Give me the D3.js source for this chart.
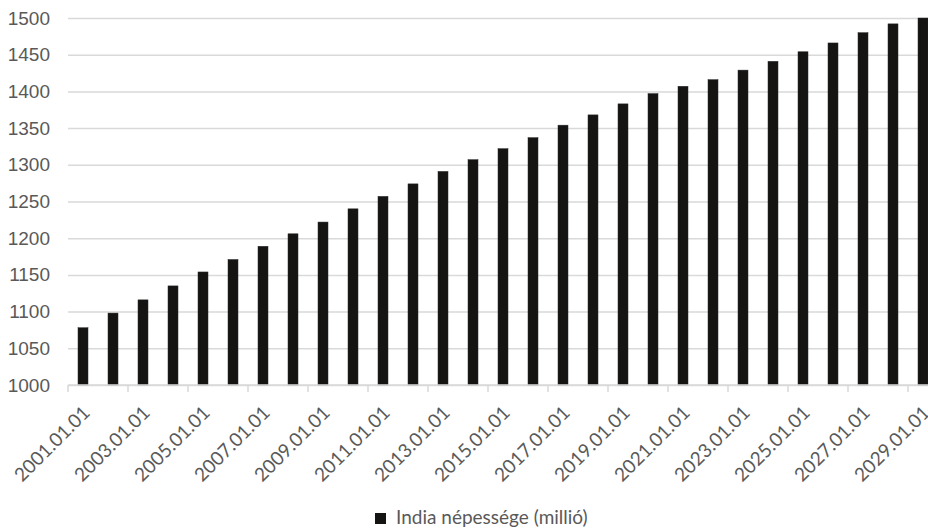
<!DOCTYPE html>
<html>
<head>
<meta charset="utf-8">
<script src="https://cdn.jsdelivr.net/npm/d3@7"></script>
<style>
  body { margin: 0; background: #fff; }
  svg { display: block; font-family: Lato, "Open Sans", sans-serif; }
</style>
</head>
<body>
<svg width="928" height="532"></svg>
<script>
// data
const dates = ["2001.01.01","2002.01.01","2003.01.01","2004.01.01","2005.01.01","2006.01.01",
  "2007.01.01","2008.01.01","2009.01.01","2010.01.01","2011.01.01","2012.01.01","2013.01.01",
  "2014.01.01","2015.01.01","2016.01.01","2017.01.01","2018.01.01","2019.01.01","2020.01.01",
  "2021.01.01","2022.01.01","2023.01.01","2024.01.01","2025.01.01","2026.01.01","2027.01.01",
  "2028.01.01","2029.01.01"];
const population = [1078, 1098, 1116, 1135, 1154, 1171, 1189, 1206, 1222, 1240, 1257, 1274, 1291,
  1307, 1322, 1337, 1354, 1368, 1383, 1397, 1407, 1416, 1429, 1441, 1454, 1466, 1480, 1492, 1500];
const yTicks = [1000, 1050, 1100, 1150, 1200, 1250, 1300, 1350, 1400, 1450, 1500];
const seriesName = "India népessége (millió)";

const margin = {top: 18, left: 68, bottom: 147},
    plotW = 870,
    height = 532;

const svg = d3.select("svg");

const x = d3.scaleBand()
  .domain(dates)
  .range([margin.left, margin.left + plotW])
  .paddingInner(2/3)
  .paddingOuter(1/3);

const y = d3.scaleLinear()
  .domain([1000, 1500])
  .range([height - margin.bottom, margin.top]);

// gridlines + y labels
const yAxis = svg.append("g")
  .attr("transform", "translate(" + margin.left + ",0)")
  .call(d3.axisLeft(y).tickValues(yTicks).tickSize(-plotW).tickPadding(18).tickFormat(d3.format("d")));
yAxis.select(".domain").remove();
yAxis.selectAll(".tick line").attr("stroke", "#d9d9d9").attr("stroke-width", 1.5);
yAxis.selectAll(".tick text").attr("fill", "#595959").style("font-size", "19px");

// bars
svg.append("g").selectAll("rect")
  .data(population)
  .join("rect")
  .attr("x", (d, i) => x(dates[i]))
  .attr("y", d => y(d))
  .attr("width", x.bandwidth())
  .attr("height", d => y(1000) - y(d))
  .attr("fill", "#151413")
  .attr("stroke", "#2b2b2b")
  .attr("stroke-width", 0.5);

// x axis line and ticks (every second category)
const base = y(1000);
svg.append("line")
  .attr("x1", margin.left).attr("x2", margin.left + plotW)
  .attr("y1", base).attr("y2", base)
  .attr("stroke", "#d9d9d9").attr("stroke-width", 1.5);

const tickCats = dates.filter((d, i) => i % 2 === 0);
svg.append("g").selectAll("line")
  .data(tickCats)
  .join("line")
  .attr("x1", d => x(d) - x.step() * x.paddingOuter())
  .attr("x2", d => x(d) - x.step() * x.paddingOuter())
  .attr("y1", base).attr("y2", base + 7)
  .attr("stroke", "#d9d9d9").attr("stroke-width", 1.5);

svg.append("g").selectAll("text")
  .data(tickCats)
  .join("text")
  .attr("transform", d => "translate(" + (x(d) + x.bandwidth() / 2 + 8) + "," + (base + 29) + ") rotate(-45)")
  .attr("text-anchor", "end")
  .attr("fill", "#595959")
  .style("font-size", "19px")
  .text(d => d);

// legend
const legend = svg.append("g").attr("transform", "translate(375,513)");
legend.append("rect").attr("width", 11).attr("height", 11).attr("fill", "#151413");
legend.append("text")
  .attr("x", 21).attr("y", 11)
  .attr("fill", "#595959")
  .style("font-size", "19px")
  .text(seriesName);
</script>
</body>
</html>
